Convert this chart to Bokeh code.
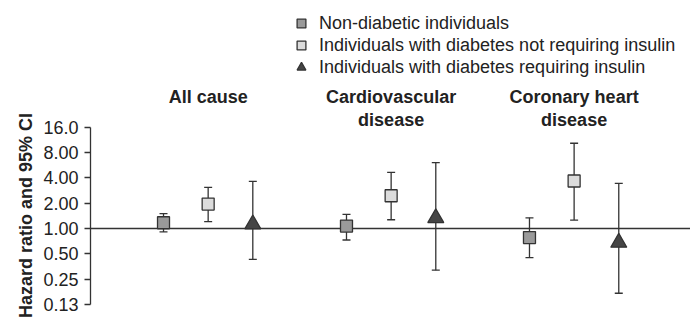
from bokeh.plotting import figure
from bokeh.models import Range1d, FixedTicker, Span, Whisker, TeeHead, ColumnDataSource, Title
from bokeh.core.properties import value
from bokeh.embed import file_html
from bokeh.resources import INLINE

# ---- data ----
groups = ["All cause", "Cardiovascular disease", "Coronary heart disease"]
title_line1 = ["All cause", "Cardiovascular", "Coronary heart"]
title_line2 = ["", "disease", "disease"]

series_names = [
    "Non-diabetic individuals",
    "Individuals with diabetes not requiring insulin",
    "Individuals with diabetes requiring insulin",
]

non_diabetic_hr = [1.17, 1.07, 0.78]
non_diabetic_lo = [0.91, 0.73, 0.45]
non_diabetic_hi = [1.50, 1.47, 1.34]

no_insulin_hr = [1.95, 2.45, 3.67]
no_insulin_lo = [1.21, 1.27, 1.26]
no_insulin_hi = [3.08, 4.65, 10.3]

insulin_hr = [1.125, 1.33, 0.68]
insulin_lo = [0.43, 0.32, 0.17]
insulin_hi = [3.63, 6.07, 3.44]

tick_values = [0.125, 0.25, 0.5, 1.0, 2.0, 4.0, 8.0, 16.0]
tick_labels = ["0.13", "0.25", "0.50", "1.00", "2.00", "4.00", "8.00", "16.0"]
y_axis_title = "Hazard ratio and 95% CI"

# ---- figure ----
FONT = "Liberation Sans"
TXT = "#222222"
LINE = "#333333"

p = figure(
    frame_width=600, frame_height=304,
    min_border_left=90, min_border_right=0, min_border_top=0, min_border_bottom=16,
    y_axis_type="log",
    x_range=Range1d(-0.643, 2.636),
    y_range=Range1d(0.125, 512.0),
    output_backend="svg", toolbar_location=None,
)
p.outline_line_color = None
p.grid.visible = False
p.xaxis.visible = False

ax = p.yaxis[0]
ax.ticker = FixedTicker(ticks=tick_values, minor_ticks=[])
ax.major_label_overrides = dict(zip(tick_values, tick_labels))
ax.bounds = (tick_values[0], tick_values[-1])
ax.axis_line_color = LINE
ax.axis_line_width = 1.3
ax.major_tick_line_color = LINE
ax.major_tick_line_width = 1.3
ax.major_tick_in = 0
ax.major_tick_out = 6
ax.minor_tick_line_color = None
ax.major_label_standoff = 6
ax.major_label_text_font = FONT
ax.major_label_text_font_size = "18px"
ax.major_label_text_color = TXT

# vertical axis title, aligned to the lower end of the drawn axis
p.add_layout(Title(
    text=y_axis_title, align="left", offset=-13.5, standoff=10,
    text_font=FONT, text_font_size="18px", text_font_style="bold", text_color=TXT,
), "left")

p.add_layout(Span(location=1.0, dimension="width", line_color=LINE, line_width=1.3, level="underlay"))

offsets = [-0.244, 0.0, 0.244]
series = [
    (non_diabetic_hr, non_diabetic_lo, non_diabetic_hi, "square", 12, "#9a9a9a"),
    (no_insulin_hr, no_insulin_lo, no_insulin_hi, "square", 12, "#dcdcdc"),
    (insulin_hr, insulin_lo, insulin_hi, "triangle", 16, "#454545"),
]

for (hr, lo, hi, marker, size, fill), off, name in zip(series, offsets, series_names):
    xs = [i + off for i in range(len(groups))]
    src = ColumnDataSource(dict(x=xs, hr=hr, lo=lo, hi=hi))
    p.add_layout(Whisker(
        base="x", upper="hi", lower="lo", source=src,
        line_color=LINE, line_width=1.3, level="underlay",
        upper_head=TeeHead(size=8, line_color=LINE, line_width=1.3),
        lower_head=TeeHead(size=8, line_color=LINE, line_width=1.3),
    ))
    p.scatter("x", "hr", source=src, marker=marker, size=size,
              fill_color=fill, line_color=LINE, line_width=1.3, legend_label=name)

gx = list(range(len(groups)))
p.text(x=gx, y=[16.0] * 3, text=title_line1, text_align="center", text_baseline="alphabetic",
       text_font=value(FONT), text_font_style="bold", text_font_size="18px",
       text_color=TXT, y_offset=-30)
p.text(x=gx, y=[16.0] * 3, text=title_line2, text_align="center", text_baseline="alphabetic",
       text_font=value(FONT), text_font_style="bold", text_font_size="18px",
       text_color=TXT, y_offset=-7.5)

lg = p.legend[0]
lg.location = (200, 226)
lg.glyph_width = 22
lg.glyph_height = 22
lg.spacing = 0
lg.padding = 0
lg.margin = 0
lg.label_standoff = 7
lg.border_line_color = None
lg.background_fill_alpha = 0
lg.label_text_font = FONT
lg.label_text_font_size = "18px"
lg.label_text_color = TXT

open("out.html", "w").write(file_html(p, INLINE))
